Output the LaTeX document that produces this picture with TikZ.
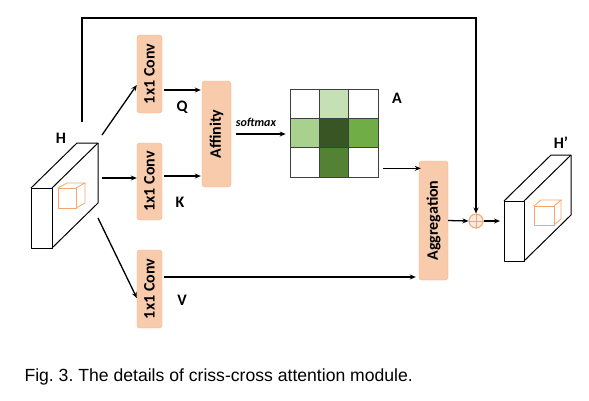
\documentclass[tikz,border=0pt]{standalone}
\usepackage{fontspec}
\setmainfont{Carlito}
\newfontfamily\capfont{Liberation Sans}
\usetikzlibrary{arrows.meta}
\frenchspacing

\definecolor{peach}{HTML}{F8CBAD}
\definecolor{peachline}{HTML}{F4B183}
\definecolor{cubeorange}{HTML}{F4A66E}
\definecolor{gLight}{HTML}{C5E0B4}
\definecolor{gLeft}{HTML}{A9D18E}
\definecolor{gDark}{HTML}{375623}
\definecolor{gRight}{HTML}{70AD47}
\definecolor{gLow}{HTML}{548235}

\tikzset{
  opbox/.style={draw=peachline, fill=peach, rounded corners=3pt, inner sep=0pt,
                font=\fontsize{16}{18}\selectfont\bfseries},
  arr/.style={-{Stealth[length=6pt,width=5pt]}, line width=1.3pt},
  blk/.style={line width=1pt, line join=round},
  cube/.style={draw=cubeorange, line width=0.8pt},
  lbl/.style={font=\fontsize{16}{18}\selectfont\bfseries},
  cell/.style={draw=black!75, line width=0.8pt, minimum size=29.33pt, inner sep=0pt}
}

\begin{document}
\begin{tikzpicture}[x=1pt, y=-1pt]
\useasboundingbox (0,0) rectangle (589,400);

% input feature H
\draw[blk] (31,188) rectangle (52,248);
\draw[blk] (31,188) -- (77,143) -- (98,143) -- (52,188);
\draw[blk] (98,143) -- (98,203) -- (52,248);
\draw[cube] (58,188) rectangle (76,208);
\draw[cube] (58,188) -- (67,183) -- (85,183) -- (76,188);
\draw[cube] (85,183) -- (85,203) -- (76,208);
\node[lbl] (hlab) at (61,138) {H};

\coordinate (htop) at (82,122);
\coordinate (hup) at (82,18);
\coordinate (hq) at (102,135);
\coordinate (hk) at (102,178);
\coordinate (hv) at (98,218);

% 1x1 convs
\node[opbox, minimum width=25pt, minimum height=78pt] (convq) at (149.5,74) {\rotatebox{90}{1x1 Conv}};
\node[opbox, minimum width=25pt, minimum height=77pt] (convk) at (149.5,181.5) {\rotatebox{90}{1x1 Conv}};
\node[opbox, minimum width=25pt, minimum height=78pt] (convv) at (149.5,289) {\rotatebox{90}{1x1 Conv}};

\node[opbox, minimum width=29pt, minimum height=106pt] (affinity) at (216.5,134) {\rotatebox{90}{Affinity}};
\node[opbox, minimum width=29pt, minimum height=119pt] (aggr) at (433.5,220.5) {\rotatebox{90}{Aggregation}};

\node[lbl] (qlab) at (182,107) {Q};
\node[lbl] (klab) at (180,202) {K};
\node[lbl] (vlab) at (182,300) {V};

% attention map A
\foreach \r/\c/\col in {1/1/white, 1/2/gLight, 1/3/white,
                        2/1/gLeft, 2/2/gDark,  2/3/gRight,
                        3/1/white, 3/2/gLow,   3/3/white}
  \node[cell, fill=\col] (c\r\c) at ({290+29.33*(\c-0.5)},{89+29.33*(\r-0.5)}) {};
\node[lbl] (alab) at (397,98) {A};
\node[font=\fontsize{12}{14}\selectfont\bfseries\itshape] (smax) at (256,122) {softmax};

% sum
\node[circle, draw=cubeorange, fill=peach!40, line width=1pt, minimum size=14pt, inner sep=0pt] (plus) at (476,221) {};
\draw[cube, line width=1pt] (plus.north) -- (plus.south) (plus.west) -- (plus.east);

% output feature H'
\draw[blk] (504,201) rectangle (524,261);
\draw[blk] (504,201) -- (551,155) -- (571,155) -- (524,201);
\draw[blk] (571,155) -- (571,215) -- (524,261);
\draw[cube] (534,206) rectangle (554,225);
\draw[cube] (534,206) -- (541,200) -- (561,200) -- (554,206);
\draw[cube] (561,200) -- (561,219) -- (554,225);
\node[lbl] (hplab) at (561,143) {H’};
\coordinate (hpin) at (500,221);

% arrows
\draw[arr] (hq) -- ([yshift=-11pt]convq.west);
\draw[arr] (hk) -- (hk -| convk.west);
\draw[arr] (hv) -- ([yshift=-9pt]convv.west);
\draw[arr, shorten <=2pt, shorten >=1pt] ([yshift=-16pt]convq.east) -- ([yshift=-16pt]convq.east -| affinity.west);
\draw[arr, shorten <=2pt, shorten >=1pt] ([yshift=5.5pt]convk.east) -- ([yshift=5.5pt]convk.east -| affinity.west);
\draw[arr, shorten <=2pt, shorten >=3pt] ([yshift=12pt]convv.east) -- ([yshift=12pt]convv.east -| aggr.west);
\draw[arr, shorten <=5pt, shorten >=4pt] (affinity.east) -- (affinity.east -| c21.west);
\draw[arr, shorten >=3pt] ([shift={(5pt,-6pt)}]c33.east) -- ([shift={(5pt,-6pt)}]c33.east -| aggr.west);
\draw[arr] (aggr.east) -- (plus.west);
\draw[arr] (plus.east) -- (hpin);
\draw[arr] (htop) -- (hup) -| (plus.north);

\node[anchor=west, font=\capfont\fontsize{17.6}{20}\selectfont] (caption) at (21,377) {Fig. 3. The details of criss-cross attention module.};
\end{tikzpicture}
\end{document}
